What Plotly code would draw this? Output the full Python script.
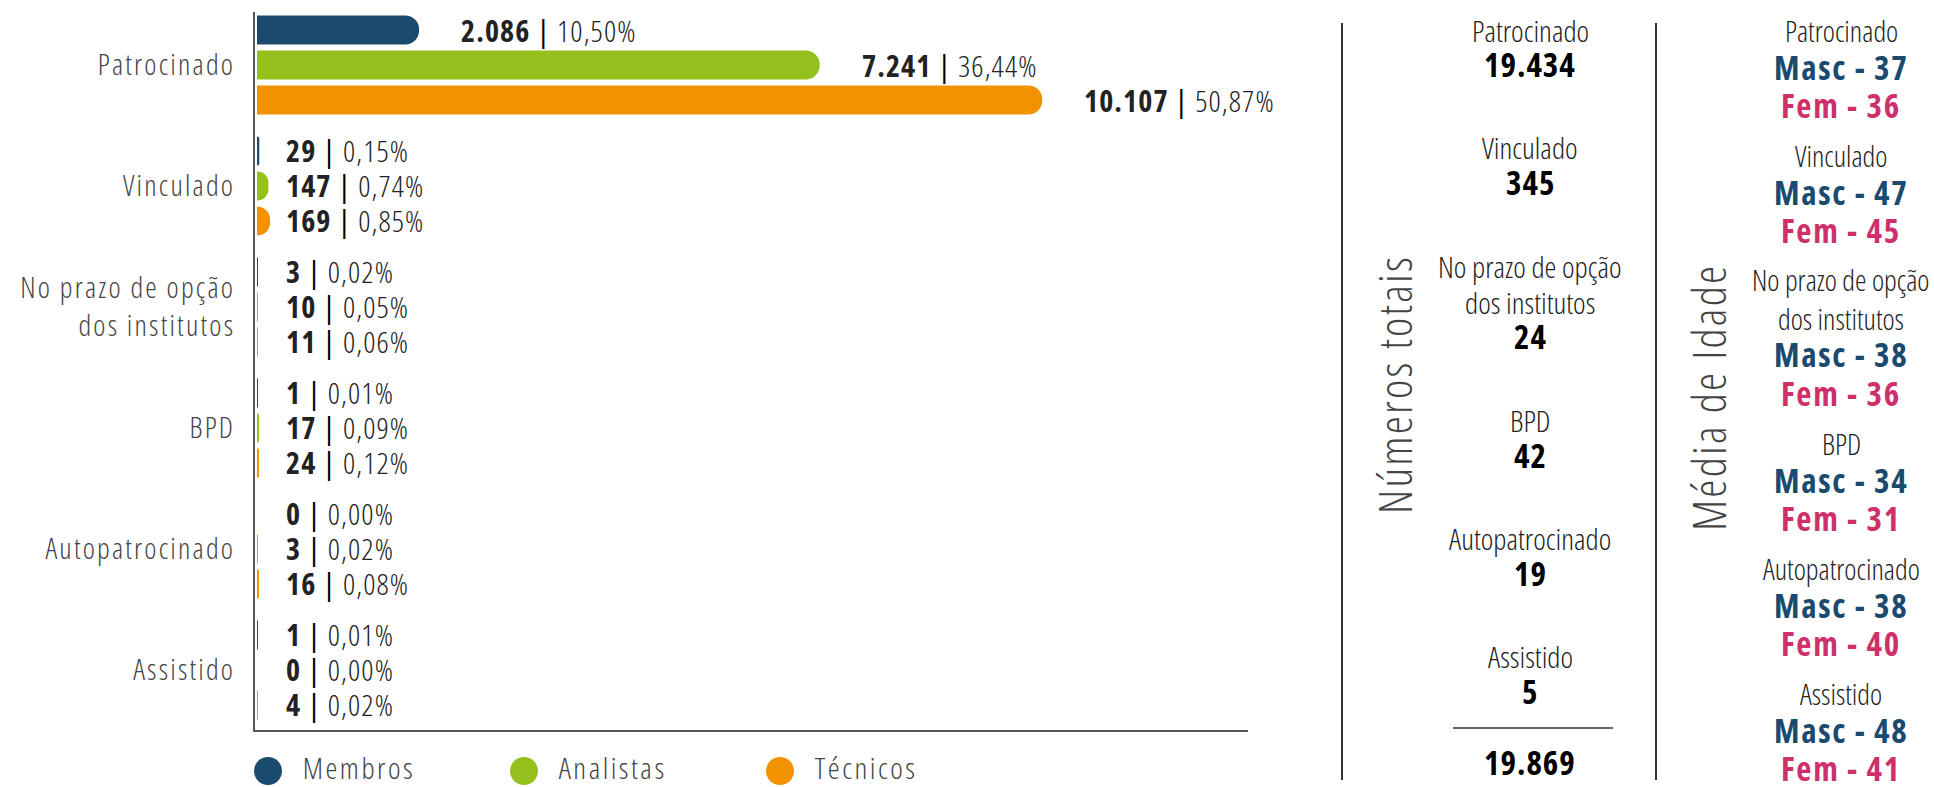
import plotly.graph_objects as go

W, H = 1934, 787

# dados
categorias = ["Patrocinado", "Vinculado", "No prazo de opção<br>dos institutos",
              "BPD", "Autopatrocinado", "Assistido"]
grupos = ["Membros", "Analistas", "Técnicos"]
membros = [2086, 29, 3, 1, 0, 1]
analistas = [7241, 147, 10, 17, 3, 0]
tecnicos = [10107, 169, 11, 24, 16, 4]
pct_membros = ["10,50", "0,15", "0,02", "0,01", "0,00", "0,01"]
pct_analistas = ["36,44", "0,74", "0,05", "0,09", "0,02", "0,00"]
pct_tecnicos = ["50,87", "0,85", "0,06", "0,12", "0,08", "0,02"]
totais = [19434, 345, 24, 42, 19, 5]
total_geral = 19869
idade_masc = [37, 47, 38, 34, 38, 48]
idade_fem = [36, 45, 36, 31, 40, 41]

cores = ["#1b4a6f", "#95c11f", "#f39200"]
cor_masc = "#1b4a6f"
cor_fem = "#cf2f6b"
FONT = "Open Sans"
NB = "&nbsp;"


def cond(s, ls=0):
    # Open Sans condensada (eixo de largura da fonte variável)
    return "<br>".join(
        f'<span style="font-stretch:75%;letter-spacing:{ls}px">{p}</span>' for p in s.split("<br>")
    )


def fmt(v):
    return f"{v:,}".replace(",", ".")


def xp(px):
    return px / W


def yp(py):
    return 1 - py / H


# geometria do gráfico de barras (pixels)
X0, X1 = 255, 1248
Y_TOP, Y_BOT = 12, 730
R0, R1 = -26, 12754
escala = (X1 - X0) / (R1 - R0)

fig = go.Figure()

series = [membros, analistas, tecnicos]
pcts = [pct_membros, pct_analistas, pct_tecnicos]
for nome, vals, cor in zip(grupos, series, cores):
    fig.add_trace(go.Bar(
        x=vals, y=categorias, orientation="h", name=nome,
        marker=dict(color=cor, cornerradius="50%", line=dict(width=0)),
        showlegend=False, hoverinfo="skip",
    ))

# rótulos das barras
for i, (vals, pc) in enumerate(zip(series, pcts)):
    for cat, v, p in zip(categorias, vals, pc):
        px = (v - R0) * escala
        alvo = px + 40 if px > 100 else 29
        fig.add_annotation(
            x=v, y=cat, xref="x", yref="y", xanchor="left", yanchor="middle",
            xshift=alvo - px, yshift=(1 - i) * 35, showarrow=False,
            text=cond(f'<b>{fmt(v)}</b>{NB}<span style="font-weight:400;fill:#000">|</span>{NB}{p}%', 1.1),
            font=dict(family=FONT, size=30, weight=300, color="#222"),
        )

# legenda
fig.add_trace(go.Scatter(
    x=[0, 1, 2], y=[0, 0, 0], mode="markers+text",
    text=[cond(NB + NB + g, 2.5) for g in grupos], textposition="middle right",
    marker=dict(size=28, color=cores),
    textfont=dict(family=FONT, size=30, weight=300, color="#444"),
    xaxis="x2", yaxis="y2", showlegend=False, hoverinfo="skip", cliponaxis=False,
))


def rotulo(x, y, txt, size, color, weight=300, ls=0):
    fig.add_annotation(x=x, y=y, xref="paper", yref="paper", xanchor="center", yanchor="middle",
                       showarrow=False, text=cond(txt, ls),
                       font=dict(family=FONT, size=size, weight=weight, color=color))


# coluna de números totais
CX_TOT = xp(1530)
cur = 30
for cat, t in zip(categorias, totais):
    for linha in cat.split("<br>"):
        rotulo(CX_TOT, yp(cur), linha, 30, "#222")
        cur += 36
    cur -= 1
    rotulo(CX_TOT, yp(cur), f"<b>{fmt(t)}</b>", 33, "#000", 400, 1)
    cur += 83
rotulo(CX_TOT, yp(762), f"<b>{fmt(total_geral)}</b>", 33, "#000", 400, 1)

# coluna de média de idade
CX_ID = xp(1841)
cur = 30
for cat, m, f in zip(categorias, idade_masc, idade_fem):
    for linha in cat.split("<br>"):
        rotulo(CX_ID, yp(cur), linha, 29, "#222")
        cur += 38
    cur -= 1
    rotulo(CX_ID, yp(cur), f"<b>Masc{NB}-{NB}{m}</b>", 33, cor_masc, 400, 1.7)
    cur += 38
    rotulo(CX_ID, yp(cur), f"<b>Fem{NB}-{NB}{f}</b>", 33, cor_fem, 400, 1.7)
    cur += 50

# títulos verticais
for txt, cx, cy in [("Números totais", 1394, 385), ("Média de Idade", 1708, 398)]:
    fig.add_annotation(x=xp(cx), y=yp(cy), xref="paper", yref="paper", showarrow=False,
                       xanchor="center", yanchor="middle", textangle=-90, text=cond(txt, 2.2),
                       font=dict(family=FONT, size=46, weight=300, color="#444"))

# linhas divisórias
for lx in [1342, 1656]:
    fig.add_shape(type="line", xref="paper", yref="paper", x0=xp(lx), x1=xp(lx),
                  y0=yp(780), y1=yp(23), line=dict(color="#333", width=2))
fig.add_shape(type="line", xref="paper", yref="paper", x0=xp(1453), x1=xp(1613),
              y0=yp(728), y1=yp(728), line=dict(color="#333", width=1.5))

fig.update_layout(
    width=W, height=H, margin=dict(l=0, r=0, t=0, b=0),
    paper_bgcolor="white", plot_bgcolor="white",
    barmode="group", bargap=0.132, bargroupgap=0.17,
    xaxis=dict(domain=[xp(X0), xp(X1)], range=[R0, R1], showline=True, linecolor="#555",
               linewidth=2, showticklabels=False, showgrid=False, zeroline=False, ticks=""),
    yaxis=dict(domain=[yp(Y_BOT), yp(Y_TOP)], type="category", range=[5.496, -0.438],
               showline=True, linecolor="#555", linewidth=2, showgrid=False, ticks="",
               tickmode="array", tickvals=categorias, ticktext=[cond(c, 2.2) for c in categorias],
               ticklabelstandoff=12,
               tickfont=dict(family=FONT, size=29, weight=300, color="#444")),
    xaxis2=dict(domain=[0, 1], range=[-268 / 256, (W - 268) / 256], visible=False, anchor="y2"),
    yaxis2=dict(domain=[0, yp(755)], range=[-1, 1], visible=False, anchor="x2"),
)

# sem a margem padrão do <body>, a figura ocupa a janela inteira
fig.write_html("out.html", config={"displayModeBar": False},
               post_script="document.body.style.margin = '0px';")
